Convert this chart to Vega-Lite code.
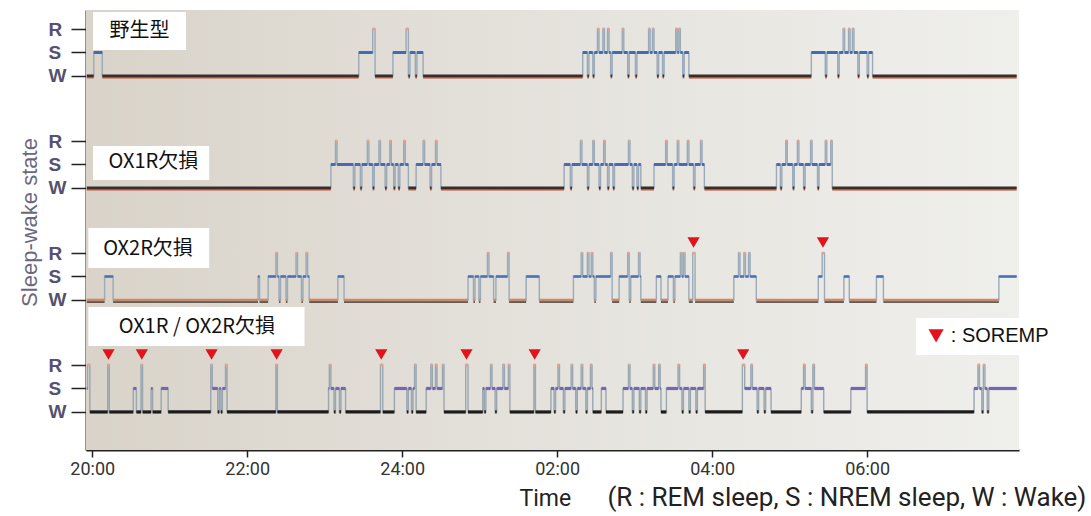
{
"$schema": "https://vega.github.io/schema/vega-lite/v6.json",
"background": "white",
"padding": {"left": 17, "top": 10, "right": 4, "bottom": 4},
"spacing": 0,
"bounds": "flush",
"resolve": {"scale": {"color": "independent"}},
"config": {
 "view": {"stroke": null},
 "font": "Liberation Sans",
 "axis": {"grid": false, "zindex": 1, "domainColor": "#222222", "domainWidth": 2, "tickColor": "#222222", "tickWidth": 1.5, "labelOverlap": false},
 "axisY": {"tickSize": 15, "labelPadding": 23, "labelAlign": "left", "labelBaseline": "middle", "labelFont": "Liberation Sans", "labelFontSize": 19, "labelFontWeight": "bold", "labelColor": "#56516f", "titleFont": "Liberation Sans", "titleFontSize": 22, "titleFontWeight": "normal", "titleColor": "#6a6880"},
 "axisX": {"tickSize": 7, "labelPadding": 3, "labelFont": "Roboto", "labelFontSize": 18, "labelColor": "#333333", "labelFlush": false, "titleFont": "Roboto", "titleFontSize": 23, "titleFontWeight": "normal", "titleColor": "#222222"}
},
"datasets": {
 "p1": [{"t":-0.07,"lv":0},{"t":0.02,"lv":1},{"t":0.13,"lv":0},{"t":3.44,"lv":1},{"t":3.62,"lv":2},{"t":3.65,"lv":0},{"t":3.88,"lv":1},{"t":4.05,"lv":2},{"t":4.08,"lv":0},{"t":4.10,"lv":1},{"t":4.17,"lv":0},{"t":4.19,"lv":1},{"t":4.27,"lv":0},
  {"t":6.33,"lv":1},{"t":6.39,"lv":0},{"t":6.41,"lv":1},{"t":6.46,"lv":0},{"t":6.48,"lv":1},{"t":6.52,"lv":2},{"t":6.54,"lv":1},{"t":6.59,"lv":2},{"t":6.61,"lv":1},{"t":6.65,"lv":2},{"t":6.67,"lv":1},{"t":6.69,"lv":0},{"t":6.71,"lv":1},{"t":6.84,"lv":2},{"t":6.86,"lv":1},{"t":6.91,"lv":0},{"t":6.93,"lv":1},{"t":7.01,"lv":0},{"t":7.03,"lv":1},{"t":7.18,"lv":2},{"t":7.20,"lv":1},{"t":7.23,"lv":2},{"t":7.25,"lv":1},{"t":7.29,"lv":0},{"t":7.31,"lv":1},{"t":7.36,"lv":0},{"t":7.38,"lv":1},{"t":7.53,"lv":2},{"t":7.55,"lv":1},{"t":7.57,"lv":2},{"t":7.59,"lv":1},{"t":7.62,"lv":0},{"t":7.64,"lv":1},{"t":7.70,"lv":0},
  {"t":9.28,"lv":1},{"t":9.46,"lv":0},{"t":9.48,"lv":1},{"t":9.62,"lv":0},{"t":9.64,"lv":1},{"t":9.69,"lv":2},{"t":9.71,"lv":1},{"t":9.76,"lv":2},{"t":9.78,"lv":1},{"t":9.81,"lv":2},{"t":9.83,"lv":1},{"t":9.88,"lv":0},{"t":9.90,"lv":1},{"t":10.00,"lv":0},{"t":10.02,"lv":1},{"t":10.07,"lv":0},{"t":11.93,"lv":0}],
 "p2": [{"t":-0.07,"lv":0},{"t":3.08,"lv":1},{"t":3.14,"lv":2},{"t":3.16,"lv":1},{"t":3.37,"lv":0},{"t":3.39,"lv":1},{"t":3.46,"lv":0},{"t":3.48,"lv":1},{"t":3.55,"lv":2},{"t":3.57,"lv":1},{"t":3.62,"lv":0},{"t":3.64,"lv":1},{"t":3.70,"lv":2},{"t":3.72,"lv":1},{"t":3.78,"lv":0},{"t":3.80,"lv":1},{"t":3.84,"lv":2},{"t":3.86,"lv":1},{"t":3.89,"lv":0},{"t":3.91,"lv":1},{"t":3.95,"lv":0},{"t":3.97,"lv":1},{"t":4.02,"lv":2},{"t":4.04,"lv":1},{"t":4.08,"lv":0},{"t":4.18,"lv":1},{"t":4.27,"lv":2},{"t":4.29,"lv":1},{"t":4.36,"lv":0},{"t":4.38,"lv":1},{"t":4.43,"lv":2},{"t":4.45,"lv":1},{"t":4.50,"lv":0},
  {"t":6.09,"lv":1},{"t":6.17,"lv":0},{"t":6.19,"lv":1},{"t":6.30,"lv":2},{"t":6.32,"lv":1},{"t":6.39,"lv":0},{"t":6.41,"lv":1},{"t":6.46,"lv":2},{"t":6.48,"lv":1},{"t":6.54,"lv":0},{"t":6.56,"lv":1},{"t":6.60,"lv":2},{"t":6.62,"lv":1},{"t":6.65,"lv":0},{"t":6.67,"lv":1},{"t":6.72,"lv":0},{"t":6.74,"lv":1},{"t":6.92,"lv":2},{"t":6.94,"lv":1},{"t":6.97,"lv":0},{"t":6.99,"lv":1},{"t":7.03,"lv":0},{"t":7.05,"lv":1},{"t":7.08,"lv":0},
  {"t":7.25,"lv":1},{"t":7.40,"lv":2},{"t":7.42,"lv":1},{"t":7.49,"lv":0},{"t":7.51,"lv":1},{"t":7.55,"lv":2},{"t":7.57,"lv":1},{"t":7.68,"lv":2},{"t":7.70,"lv":1},{"t":7.76,"lv":0},{"t":7.78,"lv":1},{"t":7.85,"lv":2},{"t":7.87,"lv":1},{"t":7.90,"lv":0},
  {"t":8.83,"lv":1},{"t":8.88,"lv":0},{"t":8.90,"lv":1},{"t":8.95,"lv":2},{"t":8.97,"lv":1},{"t":9.04,"lv":0},{"t":9.06,"lv":1},{"t":9.10,"lv":2},{"t":9.12,"lv":1},{"t":9.18,"lv":0},{"t":9.20,"lv":1},{"t":9.27,"lv":2},{"t":9.29,"lv":1},{"t":9.36,"lv":0},{"t":9.38,"lv":1},{"t":9.46,"lv":2},{"t":9.48,"lv":1},{"t":9.53,"lv":2},{"t":9.55,"lv":0},{"t":11.93,"lv":0}],
 "p3": [{"t":-0.07,"lv":0},{"t":0.16,"lv":1},{"t":0.27,"lv":0},{"t":2.14,"lv":1},{"t":2.16,"lv":0},{"t":2.27,"lv":1},{"t":2.37,"lv":2},{"t":2.39,"lv":1},{"t":2.41,"lv":0},{"t":2.43,"lv":1},{"t":2.50,"lv":0},{"t":2.52,"lv":1},{"t":2.63,"lv":2},{"t":2.65,"lv":1},{"t":2.70,"lv":0},{"t":2.72,"lv":1},{"t":2.76,"lv":2},{"t":2.78,"lv":1},{"t":2.80,"lv":0},{"t":3.17,"lv":1},{"t":3.25,"lv":0},
  {"t":4.85,"lv":1},{"t":4.92,"lv":0},{"t":4.94,"lv":1},{"t":4.99,"lv":0},{"t":5.01,"lv":1},{"t":5.10,"lv":2},{"t":5.12,"lv":1},{"t":5.18,"lv":0},{"t":5.21,"lv":1},{"t":5.36,"lv":2},{"t":5.38,"lv":0},{"t":5.60,"lv":1},{"t":5.77,"lv":0},
  {"t":6.21,"lv":1},{"t":6.31,"lv":2},{"t":6.33,"lv":1},{"t":6.39,"lv":2},{"t":6.41,"lv":1},{"t":6.44,"lv":2},{"t":6.46,"lv":1},{"t":6.48,"lv":0},{"t":6.50,"lv":1},{"t":6.69,"lv":2},{"t":6.71,"lv":0},{"t":6.80,"lv":1},{"t":6.91,"lv":2},{"t":6.93,"lv":0},{"t":6.95,"lv":1},{"t":7.05,"lv":2},{"t":7.07,"lv":1},{"t":7.08,"lv":0},{"t":7.28,"lv":1},{"t":7.34,"lv":0},{"t":7.43,"lv":1},{"t":7.50,"lv":0},{"t":7.52,"lv":1},{"t":7.59,"lv":2},{"t":7.61,"lv":1},{"t":7.63,"lv":2},{"t":7.65,"lv":1},{"t":7.70,"lv":0},{"t":7.75,"lv":2},{"t":7.78,"lv":0},
  {"t":8.28,"lv":1},{"t":8.34,"lv":2},{"t":8.36,"lv":1},{"t":8.41,"lv":2},{"t":8.43,"lv":1},{"t":8.47,"lv":2},{"t":8.49,"lv":1},{"t":8.57,"lv":0},
  {"t":9.37,"lv":1},{"t":9.42,"lv":2},{"t":9.45,"lv":0},{"t":9.70,"lv":1},{"t":9.77,"lv":0},{"t":10.12,"lv":1},{"t":10.21,"lv":0},{"t":11.70,"lv":1},{"t":11.93,"lv":1}],
 "p4": [{"t":-0.07,"lv":1},{"t":-0.06,"lv":2},{"t":-0.03,"lv":0},{"t":0.20,"lv":2},{"t":0.22,"lv":0},{"t":0.53,"lv":1},{"t":0.57,"lv":0},{"t":0.63,"lv":2},{"t":0.65,"lv":0},{"t":0.76,"lv":1},{"t":0.78,"lv":0},{"t":0.89,"lv":1},{"t":0.98,"lv":0},{"t":1.53,"lv":2},{"t":1.55,"lv":1},{"t":1.62,"lv":0},{"t":1.64,"lv":1},{"t":1.66,"lv":0},{"t":1.68,"lv":1},{"t":1.72,"lv":2},{"t":1.74,"lv":0},{"t":2.37,"lv":2},{"t":2.39,"lv":0},
  {"t":3.05,"lv":1},{"t":3.06,"lv":2},{"t":3.08,"lv":1},{"t":3.12,"lv":0},{"t":3.14,"lv":1},{"t":3.19,"lv":0},{"t":3.21,"lv":1},{"t":3.27,"lv":0},{"t":3.72,"lv":2},{"t":3.75,"lv":0},{"t":3.90,"lv":1},{"t":4.06,"lv":0},{"t":4.08,"lv":1},{"t":4.12,"lv":0},{"t":4.14,"lv":1},{"t":4.16,"lv":2},{"t":4.18,"lv":0},{"t":4.31,"lv":1},{"t":4.37,"lv":2},{"t":4.39,"lv":1},{"t":4.43,"lv":2},{"t":4.45,"lv":1},{"t":4.52,"lv":2},{"t":4.54,"lv":0},{"t":4.82,"lv":2},{"t":4.85,"lv":0},
  {"t":5.04,"lv":1},{"t":5.06,"lv":0},{"t":5.08,"lv":1},{"t":5.14,"lv":2},{"t":5.16,"lv":1},{"t":5.20,"lv":0},{"t":5.22,"lv":1},{"t":5.30,"lv":2},{"t":5.32,"lv":1},{"t":5.37,"lv":2},{"t":5.39,"lv":0},{"t":5.70,"lv":2},{"t":5.72,"lv":0},{"t":5.92,"lv":1},{"t":5.96,"lv":0},{"t":5.98,"lv":1},{"t":6.01,"lv":2},{"t":6.03,"lv":1},{"t":6.08,"lv":0},{"t":6.10,"lv":1},{"t":6.18,"lv":2},{"t":6.20,"lv":1},{"t":6.24,"lv":0},{"t":6.26,"lv":1},{"t":6.31,"lv":2},{"t":6.33,"lv":1},{"t":6.37,"lv":0},{"t":6.39,"lv":1},{"t":6.43,"lv":2},{"t":6.45,"lv":1},{"t":6.46,"lv":0},{"t":6.57,"lv":1},{"t":6.63,"lv":0},
  {"t":6.85,"lv":1},{"t":6.92,"lv":2},{"t":6.94,"lv":1},{"t":6.97,"lv":0},{"t":6.99,"lv":1},{"t":7.06,"lv":0},{"t":7.08,"lv":1},{"t":7.14,"lv":0},{"t":7.16,"lv":1},{"t":7.24,"lv":2},{"t":7.26,"lv":1},{"t":7.31,"lv":2},{"t":7.33,"lv":1},{"t":7.34,"lv":0},{"t":7.41,"lv":1},{"t":7.56,"lv":2},{"t":7.58,"lv":1},{"t":7.61,"lv":0},{"t":7.63,"lv":1},{"t":7.70,"lv":0},{"t":7.72,"lv":1},{"t":7.79,"lv":0},{"t":7.81,"lv":1},{"t":7.89,"lv":2},{"t":7.91,"lv":0},
  {"t":8.39,"lv":2},{"t":8.42,"lv":1},{"t":8.50,"lv":2},{"t":8.52,"lv":1},{"t":8.58,"lv":0},{"t":8.60,"lv":1},{"t":8.67,"lv":0},{"t":8.69,"lv":1},{"t":8.76,"lv":0},{"t":9.15,"lv":1},{"t":9.18,"lv":2},{"t":9.20,"lv":1},{"t":9.28,"lv":0},{"t":9.30,"lv":2},{"t":9.32,"lv":1},{"t":9.44,"lv":0},{"t":9.79,"lv":1},{"t":9.98,"lv":2},{"t":10.00,"lv":0},
  {"t":11.38,"lv":1},{"t":11.43,"lv":2},{"t":11.45,"lv":1},{"t":11.48,"lv":0},{"t":11.50,"lv":2},{"t":11.52,"lv":1},{"t":11.55,"lv":0},{"t":11.57,"lv":1},{"t":11.93,"lv":1}],
 "s3": [{"t":7.76},{"t":9.43}],
 "s4": [{"t":0.21},{"t":0.64},{"t":1.54},{"t":2.38},{"t":3.73},{"t":4.83},{"t":5.71},{"t":8.40}]
},
"vconcat": [
 {
  "width": 933, "height": 112,
  "layer": [
   {"data": {"values": [{}]}, "mark": {"type": "rect", "color": {"gradient": "linear", "x1": 0, "y1": 0, "x2": 1, "y2": 0, "stops": [{"offset": 0, "color": "#d9d3c9"}, {"offset": 0.45, "color": "#e4e1db"}, {"offset": 1, "color": "#efefec"}]}},
    "encoding": {"x": {"datum": -0.08, "type": "quantitative", "scale": {"domain": [-0.08, 11.96], "nice": false, "zero": false}, "axis": null}, "x2": {"datum": 11.96},
     "y": {"datum": 2.81, "type": "quantitative", "scale": {"domain": [-1.96, 2.81], "nice": false, "zero": false}, "axis": {"values": [0, 1, 2], "labelExpr": "datum.value == 2 ? 'R' : datum.value == 1 ? 'S' : 'W'", "title": null}}, "y2": {"datum": -1.96}}},
   {"data": {"name": "p1"}, "mark": {"type": "line", "interpolate": "step-after", "color": "#9aaab8", "strokeWidth": 1.4},
    "encoding": {"x": {"field": "t", "type": "quantitative", "scale": {"domain": [-0.08, 11.96], "nice": false, "zero": false}, "axis": null},
     "y": {"field": "lv", "type": "quantitative", "scale": {"domain": [-1.96, 2.81], "nice": false, "zero": false}, "axis": {"values": [0, 1, 2], "labelExpr": "datum.value == 2 ? 'R' : datum.value == 1 ? 'S' : 'W'", "title": null}}}},
   {"data": {"name": "p1"}, "transform": [{"window": [{"op": "lead", "field": "t", "as": "e"}], "sort": [{"field": "t"}]}, {"filter": "datum.e != null && datum.lv == 0"}],
    "mark": {"type": "rule", "strokeWidth": 1.3, "color": "#cf7a66", "yOffset": 2},
    "encoding": {"x": {"field": "t", "type": "quantitative", "scale": {"domain": [-0.08, 11.96], "nice": false, "zero": false}, "axis": null}, "x2": {"field": "e"},
     "y": {"field": "lv", "type": "quantitative", "scale": {"domain": [-1.96, 2.81], "nice": false, "zero": false}, "axis": {"values": [0, 1, 2], "labelExpr": "datum.value == 2 ? 'R' : datum.value == 1 ? 'S' : 'W'", "title": null}}}},
   {"data": {"name": "p1"}, "transform": [{"window": [{"op": "lead", "field": "t", "as": "e"}], "sort": [{"field": "t"}]}, {"filter": "datum.e != null"}],
    "mark": {"type": "rule", "strokeWidth": 3},
    "encoding": {"x": {"field": "t", "type": "quantitative", "scale": {"domain": [-0.08, 11.96], "nice": false, "zero": false}, "axis": null}, "x2": {"field": "e"},
     "y": {"field": "lv", "type": "quantitative", "scale": {"domain": [-1.96, 2.81], "nice": false, "zero": false}, "axis": {"values": [0, 1, 2], "labelExpr": "datum.value == 2 ? 'R' : datum.value == 1 ? 'S' : 'W'", "title": null}},
     "color": {"field": "lv", "type": "nominal", "scale": {"domain": [0, 1, 2], "range": ["#3a2e2a", "#3d6db3", "#e9a08c"]}, "legend": null}}},
   {"data": {"values": [{}]}, "mark": {"type": "rect", "color": "#ffffff"},
    "encoding": {"x": {"datum": 0.01, "type": "quantitative", "scale": {"domain": [-0.08, 11.96], "nice": false, "zero": false}, "axis": null}, "x2": {"datum": 1.21},
     "y": {"datum": 2.72, "type": "quantitative", "scale": {"domain": [-1.96, 2.81], "nice": false, "zero": false}, "axis": {"values": [0, 1, 2], "labelExpr": "datum.value == 2 ? 'R' : datum.value == 1 ? 'S' : 'W'", "title": null}}, "y2": {"datum": 1.11}}},
   {"data": {"values": [{"label": "野生型"}]}, "mark": {"type": "text", "font": "Noto Sans CJK JP", "fontSize": 20, "color": "#111111", "align": "center", "baseline": "middle"},
    "encoding": {"x": {"datum": 0.61, "type": "quantitative", "scale": {"domain": [-0.08, 11.96], "nice": false, "zero": false}, "axis": null},
     "y": {"datum": 1.92, "type": "quantitative", "scale": {"domain": [-1.96, 2.81], "nice": false, "zero": false}, "axis": {"values": [0, 1, 2], "labelExpr": "datum.value == 2 ? 'R' : datum.value == 1 ? 'S' : 'W'", "title": null}}, "text": {"field": "label"}}}
  ]
 },
 {
  "width": 933, "height": 112,
  "layer": [
   {"data": {"values": [{}]}, "mark": {"type": "rect", "color": {"gradient": "linear", "x1": 0, "y1": 0, "x2": 1, "y2": 0, "stops": [{"offset": 0, "color": "#d9d3c9"}, {"offset": 0.45, "color": "#e4e1db"}, {"offset": 1, "color": "#efefec"}]}},
    "encoding": {"x": {"datum": -0.08, "type": "quantitative", "scale": {"domain": [-0.08, 11.96], "nice": false, "zero": false}, "axis": null}, "x2": {"datum": 11.96},
     "y": {"datum": 2.81, "type": "quantitative", "scale": {"domain": [-1.96, 2.81], "nice": false, "zero": false}, "axis": {"values": [0, 1, 2], "labelExpr": "datum.value == 2 ? 'R' : datum.value == 1 ? 'S' : 'W'", "title": "Sleep-wake state", "titleX": -57, "titleY": 100, "titleBaseline": "middle", "titleAlign": "center", "titleAngle": -90}}, "y2": {"datum": -1.96}}},
   {"data": {"name": "p2"}, "mark": {"type": "line", "interpolate": "step-after", "color": "#9aaab8", "strokeWidth": 1.4},
    "encoding": {"x": {"field": "t", "type": "quantitative", "scale": {"domain": [-0.08, 11.96], "nice": false, "zero": false}, "axis": null},
     "y": {"field": "lv", "type": "quantitative", "scale": {"domain": [-1.96, 2.81], "nice": false, "zero": false}, "axis": {"values": [0, 1, 2], "labelExpr": "datum.value == 2 ? 'R' : datum.value == 1 ? 'S' : 'W'", "title": "Sleep-wake state", "titleX": -57, "titleY": 100, "titleBaseline": "middle", "titleAlign": "center", "titleAngle": -90}}}},
   {"data": {"name": "p2"}, "transform": [{"window": [{"op": "lead", "field": "t", "as": "e"}], "sort": [{"field": "t"}]}, {"filter": "datum.e != null && datum.lv == 0"}],
    "mark": {"type": "rule", "strokeWidth": 1.3, "color": "#cf7a66", "yOffset": 2},
    "encoding": {"x": {"field": "t", "type": "quantitative", "scale": {"domain": [-0.08, 11.96], "nice": false, "zero": false}, "axis": null}, "x2": {"field": "e"},
     "y": {"field": "lv", "type": "quantitative", "scale": {"domain": [-1.96, 2.81], "nice": false, "zero": false}, "axis": {"values": [0, 1, 2], "labelExpr": "datum.value == 2 ? 'R' : datum.value == 1 ? 'S' : 'W'", "title": "Sleep-wake state", "titleX": -57, "titleY": 100, "titleBaseline": "middle", "titleAlign": "center", "titleAngle": -90}}}},
   {"data": {"name": "p2"}, "transform": [{"window": [{"op": "lead", "field": "t", "as": "e"}], "sort": [{"field": "t"}]}, {"filter": "datum.e != null"}],
    "mark": {"type": "rule", "strokeWidth": 3},
    "encoding": {"x": {"field": "t", "type": "quantitative", "scale": {"domain": [-0.08, 11.96], "nice": false, "zero": false}, "axis": null}, "x2": {"field": "e"},
     "y": {"field": "lv", "type": "quantitative", "scale": {"domain": [-1.96, 2.81], "nice": false, "zero": false}, "axis": {"values": [0, 1, 2], "labelExpr": "datum.value == 2 ? 'R' : datum.value == 1 ? 'S' : 'W'", "title": "Sleep-wake state", "titleX": -57, "titleY": 100, "titleBaseline": "middle", "titleAlign": "center", "titleAngle": -90}},
     "color": {"field": "lv", "type": "nominal", "scale": {"domain": [0, 1, 2], "range": ["#3a2e2a", "#4a68b5", "#e9a08c"]}, "legend": null}}},
   {"data": {"values": [{}]}, "mark": {"type": "rect", "color": "#ffffff"},
    "encoding": {"x": {"datum": 0.01, "type": "quantitative", "scale": {"domain": [-0.08, 11.96], "nice": false, "zero": false}, "axis": null}, "x2": {"datum": 1.51},
     "y": {"datum": 1.79, "type": "quantitative", "scale": {"domain": [-1.96, 2.81], "nice": false, "zero": false}, "axis": {"values": [0, 1, 2], "labelExpr": "datum.value == 2 ? 'R' : datum.value == 1 ? 'S' : 'W'", "title": "Sleep-wake state", "titleX": -57, "titleY": 100, "titleBaseline": "middle", "titleAlign": "center", "titleAngle": -90}}, "y2": {"datum": 0.34}}},
   {"data": {"values": [{"label": "OX1R欠損"}]}, "mark": {"type": "text", "font": "Noto Sans CJK JP", "fontSize": 20, "color": "#111111", "align": "center", "baseline": "middle"},
    "encoding": {"x": {"datum": 0.79, "type": "quantitative", "scale": {"domain": [-0.08, 11.96], "nice": false, "zero": false}, "axis": null},
     "y": {"datum": 1.11, "type": "quantitative", "scale": {"domain": [-1.96, 2.81], "nice": false, "zero": false}, "axis": {"values": [0, 1, 2], "labelExpr": "datum.value == 2 ? 'R' : datum.value == 1 ? 'S' : 'W'", "title": "Sleep-wake state", "titleX": -57, "titleY": 100, "titleBaseline": "middle", "titleAlign": "center", "titleAngle": -90}}, "text": {"field": "label"}}}
  ]
 },
 {
  "width": 933, "height": 112,
  "layer": [
   {"data": {"values": [{}]}, "mark": {"type": "rect", "color": {"gradient": "linear", "x1": 0, "y1": 0, "x2": 1, "y2": 0, "stops": [{"offset": 0, "color": "#d9d3c9"}, {"offset": 0.45, "color": "#e4e1db"}, {"offset": 1, "color": "#efefec"}]}},
    "encoding": {"x": {"datum": -0.08, "type": "quantitative", "scale": {"domain": [-0.08, 11.96], "nice": false, "zero": false}, "axis": null}, "x2": {"datum": 11.96},
     "y": {"datum": 2.81, "type": "quantitative", "scale": {"domain": [-1.96, 2.81], "nice": false, "zero": false}, "axis": {"values": [0, 1, 2], "labelExpr": "datum.value == 2 ? 'R' : datum.value == 1 ? 'S' : 'W'", "title": null}}, "y2": {"datum": -1.96}}},
   {"data": {"name": "p3"}, "mark": {"type": "line", "interpolate": "step-after", "color": "#9aaab8", "strokeWidth": 1.4},
    "encoding": {"x": {"field": "t", "type": "quantitative", "scale": {"domain": [-0.08, 11.96], "nice": false, "zero": false}, "axis": null},
     "y": {"field": "lv", "type": "quantitative", "scale": {"domain": [-1.96, 2.81], "nice": false, "zero": false}, "axis": {"values": [0, 1, 2], "labelExpr": "datum.value == 2 ? 'R' : datum.value == 1 ? 'S' : 'W'", "title": null}}}},
   {"data": {"name": "p3"}, "transform": [{"window": [{"op": "lead", "field": "t", "as": "e"}], "sort": [{"field": "t"}]}, {"filter": "datum.e != null && datum.lv == 0"}],
    "mark": {"type": "rule", "strokeWidth": 1.6, "color": "#3a3230", "yOffset": 2},
    "encoding": {"x": {"field": "t", "type": "quantitative", "scale": {"domain": [-0.08, 11.96], "nice": false, "zero": false}, "axis": null}, "x2": {"field": "e"},
     "y": {"field": "lv", "type": "quantitative", "scale": {"domain": [-1.96, 2.81], "nice": false, "zero": false}, "axis": {"values": [0, 1, 2], "labelExpr": "datum.value == 2 ? 'R' : datum.value == 1 ? 'S' : 'W'", "title": null}}}},
   {"data": {"name": "p3"}, "transform": [{"window": [{"op": "lead", "field": "t", "as": "e"}], "sort": [{"field": "t"}]}, {"filter": "datum.e != null"}],
    "mark": {"type": "rule", "strokeWidth": 2.6},
    "encoding": {"x": {"field": "t", "type": "quantitative", "scale": {"domain": [-0.08, 11.96], "nice": false, "zero": false}, "axis": null}, "x2": {"field": "e"},
     "y": {"field": "lv", "type": "quantitative", "scale": {"domain": [-1.96, 2.81], "nice": false, "zero": false}, "axis": {"values": [0, 1, 2], "labelExpr": "datum.value == 2 ? 'R' : datum.value == 1 ? 'S' : 'W'", "title": null}},
     "color": {"field": "lv", "type": "nominal", "scale": {"domain": [0, 1, 2], "range": ["#c98a6c", "#4a72b8", "#e9a08c"]}, "legend": null}}},
   {"data": {"name": "s3"}, "mark": {"type": "point", "shape": "triangle-down", "filled": true, "color": "#e3121b", "size": 150, "opacity": 1},
    "encoding": {"x": {"field": "t", "type": "quantitative", "scale": {"domain": [-0.08, 11.96], "nice": false, "zero": false}, "axis": null},
     "y": {"datum": 2.45, "type": "quantitative", "scale": {"domain": [-1.96, 2.81], "nice": false, "zero": false}, "axis": {"values": [0, 1, 2], "labelExpr": "datum.value == 2 ? 'R' : datum.value == 1 ? 'S' : 'W'", "title": null}}}},
   {"data": {"values": [{}]}, "mark": {"type": "rect", "color": "#ffffff"},
    "encoding": {"x": {"datum": -0.05, "type": "quantitative", "scale": {"domain": [-0.08, 11.96], "nice": false, "zero": false}, "axis": null}, "x2": {"datum": 1.51},
     "y": {"datum": 3.07, "type": "quantitative", "scale": {"domain": [-1.96, 2.81], "nice": false, "zero": false}, "axis": {"values": [0, 1, 2], "labelExpr": "datum.value == 2 ? 'R' : datum.value == 1 ? 'S' : 'W'", "title": null}}, "y2": {"datum": 1.36}}},
   {"data": {"values": [{"label": "OX2R欠損"}]}, "mark": {"type": "text", "font": "Noto Sans CJK JP", "fontSize": 20, "color": "#111111", "align": "center", "baseline": "middle"},
    "encoding": {"x": {"datum": 0.72, "type": "quantitative", "scale": {"domain": [-0.08, 11.96], "nice": false, "zero": false}, "axis": null},
     "y": {"datum": 2.17, "type": "quantitative", "scale": {"domain": [-1.96, 2.81], "nice": false, "zero": false}, "axis": {"values": [0, 1, 2], "labelExpr": "datum.value == 2 ? 'R' : datum.value == 1 ? 'S' : 'W'", "title": null}}, "text": {"field": "label"}}}
  ]
 },
 {
  "width": 933, "height": 104,
  "layer": [
   {"data": {"values": [{}]}, "mark": {"type": "rect", "color": {"gradient": "linear", "x1": 0, "y1": 0, "x2": 1, "y2": 0, "stops": [{"offset": 0, "color": "#d9d3c9"}, {"offset": 0.45, "color": "#e4e1db"}, {"offset": 1, "color": "#efefec"}]}},
    "encoding": {"x": {"datum": -0.08, "type": "quantitative", "scale": {"domain": [-0.08, 11.96], "nice": false, "zero": false}, "axis": {"values": [0, 2, 4, 6, 8, 10], "labelExpr": "['20:00','22:00','24:00','02:00','04:00','06:00'][round(datum.value/2)]", "title": "Time", "titleX": 433, "titleY": 48, "titleAlign": "left", "titleBaseline": "middle"}}, "x2": {"datum": 11.96},
     "y": {"datum": 2.81, "type": "quantitative", "scale": {"domain": [-1.62, 2.81], "nice": false, "zero": false}, "axis": {"values": [0, 1, 2], "labelExpr": "datum.value == 2 ? 'R' : datum.value == 1 ? 'S' : 'W'", "title": null}}, "y2": {"datum": -1.62}}},
   {"data": {"name": "p4"}, "mark": {"type": "line", "interpolate": "step-after", "color": "#9aa6b0", "strokeWidth": 1.4},
    "encoding": {"x": {"field": "t", "type": "quantitative", "scale": {"domain": [-0.08, 11.96], "nice": false, "zero": false}, "axis": {"values": [0, 2, 4, 6, 8, 10], "labelExpr": "['20:00','22:00','24:00','02:00','04:00','06:00'][round(datum.value/2)]", "title": "Time", "titleX": 433, "titleY": 48, "titleAlign": "left", "titleBaseline": "middle"}},
     "y": {"field": "lv", "type": "quantitative", "scale": {"domain": [-1.62, 2.81], "nice": false, "zero": false}, "axis": {"values": [0, 1, 2], "labelExpr": "datum.value == 2 ? 'R' : datum.value == 1 ? 'S' : 'W'", "title": null}}}},
   {"data": {"name": "p4"}, "transform": [{"window": [{"op": "lead", "field": "t", "as": "e"}], "sort": [{"field": "t"}]}, {"filter": "datum.e != null"}],
    "mark": {"type": "rule", "strokeWidth": 3.2},
    "encoding": {"x": {"field": "t", "type": "quantitative", "scale": {"domain": [-0.08, 11.96], "nice": false, "zero": false}, "axis": {"values": [0, 2, 4, 6, 8, 10], "labelExpr": "['20:00','22:00','24:00','02:00','04:00','06:00'][round(datum.value/2)]", "title": "Time", "titleX": 433, "titleY": 48, "titleAlign": "left", "titleBaseline": "middle"}}, "x2": {"field": "e"},
     "y": {"field": "lv", "type": "quantitative", "scale": {"domain": [-1.62, 2.81], "nice": false, "zero": false}, "axis": {"values": [0, 1, 2], "labelExpr": "datum.value == 2 ? 'R' : datum.value == 1 ? 'S' : 'W'", "title": null}},
     "color": {"field": "lv", "type": "nominal", "scale": {"domain": [0, 1, 2], "range": ["#1c1c1c", "#7465b5", "#e9a08c"]}, "legend": null}}},
   {"data": {"name": "s4"}, "mark": {"type": "point", "shape": "triangle-down", "filled": true, "color": "#e3121b", "size": 150, "opacity": 1},
    "encoding": {"x": {"field": "t", "type": "quantitative", "scale": {"domain": [-0.08, 11.96], "nice": false, "zero": false}, "axis": {"values": [0, 2, 4, 6, 8, 10], "labelExpr": "['20:00','22:00','24:00','02:00','04:00','06:00'][round(datum.value/2)]", "title": "Time", "titleX": 433, "titleY": 48, "titleAlign": "left", "titleBaseline": "middle"}},
     "y": {"datum": 2.45, "type": "quantitative", "scale": {"domain": [-1.62, 2.81], "nice": false, "zero": false}, "axis": {"values": [0, 1, 2], "labelExpr": "datum.value == 2 ? 'R' : datum.value == 1 ? 'S' : 'W'", "title": null}}}},
   {"data": {"values": [{}]}, "mark": {"type": "rect", "color": "#ffffff"},
    "encoding": {"x": {"datum": -0.05, "type": "quantitative", "scale": {"domain": [-0.08, 11.96], "nice": false, "zero": false}, "axis": {"values": [0, 2, 4, 6, 8, 10], "labelExpr": "['20:00','22:00','24:00','02:00','04:00','06:00'][round(datum.value/2)]", "title": "Time", "titleX": 433, "titleY": 48, "titleAlign": "left", "titleBaseline": "middle"}}, "x2": {"datum": 2.74},
     "y": {"datum": 4.47, "type": "quantitative", "scale": {"domain": [-1.62, 2.81], "nice": false, "zero": false}, "axis": {"values": [0, 1, 2], "labelExpr": "datum.value == 2 ? 'R' : datum.value == 1 ? 'S' : 'W'", "title": null}}, "y2": {"datum": 2.81}}},
   {"data": {"values": [{"label": "OX1R / OX2R欠損"}]}, "mark": {"type": "text", "font": "Noto Sans CJK JP", "fontSize": 20, "color": "#111111", "align": "center", "baseline": "middle"},
    "encoding": {"x": {"datum": 1.35, "type": "quantitative", "scale": {"domain": [-0.08, 11.96], "nice": false, "zero": false}, "axis": {"values": [0, 2, 4, 6, 8, 10], "labelExpr": "['20:00','22:00','24:00','02:00','04:00','06:00'][round(datum.value/2)]", "title": "Time", "titleX": 433, "titleY": 48, "titleAlign": "left", "titleBaseline": "middle"}},
     "y": {"datum": 3.62, "type": "quantitative", "scale": {"domain": [-1.62, 2.81], "nice": false, "zero": false}, "axis": {"values": [0, 1, 2], "labelExpr": "datum.value == 2 ? 'R' : datum.value == 1 ? 'S' : 'W'", "title": null}}, "text": {"field": "label"}}},
   {"data": {"values": [{}]}, "mark": {"type": "rect", "color": "#ffffff"},
    "encoding": {"x": {"datum": 10.63, "type": "quantitative", "scale": {"domain": [-0.08, 11.96], "nice": false, "zero": false}, "axis": {"values": [0, 2, 4, 6, 8, 10], "labelExpr": "['20:00','22:00','24:00','02:00','04:00','06:00'][round(datum.value/2)]", "title": "Time", "titleX": 433, "titleY": 48, "titleAlign": "left", "titleBaseline": "middle"}}, "x2": {"datum": 12.83},
     "y": {"datum": 4.0, "type": "quantitative", "scale": {"domain": [-1.62, 2.81], "nice": false, "zero": false}, "axis": {"values": [0, 1, 2], "labelExpr": "datum.value == 2 ? 'R' : datum.value == 1 ? 'S' : 'W'", "title": null}}, "y2": {"datum": 2.43}}},
   {"data": {"values": [{"sym": "SOREMP"}]}, "mark": {"type": "point", "shape": "triangle-down", "filled": true, "color": "#e3121b", "size": 230, "opacity": 1},
    "encoding": {"x": {"datum": 10.89, "type": "quantitative", "scale": {"domain": [-0.08, 11.96], "nice": false, "zero": false}, "axis": {"values": [0, 2, 4, 6, 8, 10], "labelExpr": "['20:00','22:00','24:00','02:00','04:00','06:00'][round(datum.value/2)]", "title": "Time", "titleX": 433, "titleY": 48, "titleAlign": "left", "titleBaseline": "middle"}},
     "y": {"datum": 3.24, "type": "quantitative", "scale": {"domain": [-1.62, 2.81], "nice": false, "zero": false}, "axis": {"values": [0, 1, 2], "labelExpr": "datum.value == 2 ? 'R' : datum.value == 1 ? 'S' : 'W'", "title": null}}}},
   {"data": {"values": [{"label": ": SOREMP"}]}, "mark": {"type": "text", "font": "Liberation Sans", "fontSize": 20, "color": "#111111", "align": "left", "baseline": "middle"},
    "encoding": {"x": {"datum": 11.08, "type": "quantitative", "scale": {"domain": [-0.08, 11.96], "nice": false, "zero": false}, "axis": {"values": [0, 2, 4, 6, 8, 10], "labelExpr": "['20:00','22:00','24:00','02:00','04:00','06:00'][round(datum.value/2)]", "title": "Time", "titleX": 433, "titleY": 48, "titleAlign": "left", "titleBaseline": "middle"}},
     "y": {"datum": 3.24, "type": "quantitative", "scale": {"domain": [-1.62, 2.81], "nice": false, "zero": false}, "axis": {"values": [0, 1, 2], "labelExpr": "datum.value == 2 ? 'R' : datum.value == 1 ? 'S' : 'W'", "title": null}}, "text": {"field": "label"}}},
   {"data": {"values": [{"label": "(R : REM sleep, S : NREM sleep, W : Wake)"}]}, "mark": {"type": "text", "font": "Roboto", "fontSize": 26, "color": "#222222", "align": "right", "baseline": "middle"},
    "encoding": {"x": {"datum": 12.83, "type": "quantitative", "scale": {"domain": [-0.08, 11.96], "nice": false, "zero": false}, "axis": {"values": [0, 2, 4, 6, 8, 10], "labelExpr": "['20:00','22:00','24:00','02:00','04:00','06:00'][round(datum.value/2)]", "title": "Time", "titleX": 433, "titleY": 48, "titleAlign": "left", "titleBaseline": "middle"}},
     "y": {"datum": -3.66, "type": "quantitative", "scale": {"domain": [-1.62, 2.81], "nice": false, "zero": false}, "axis": {"values": [0, 1, 2], "labelExpr": "datum.value == 2 ? 'R' : datum.value == 1 ? 'S' : 'W'", "title": null}}, "text": {"field": "label"}}}
  ]
 }
]
}
